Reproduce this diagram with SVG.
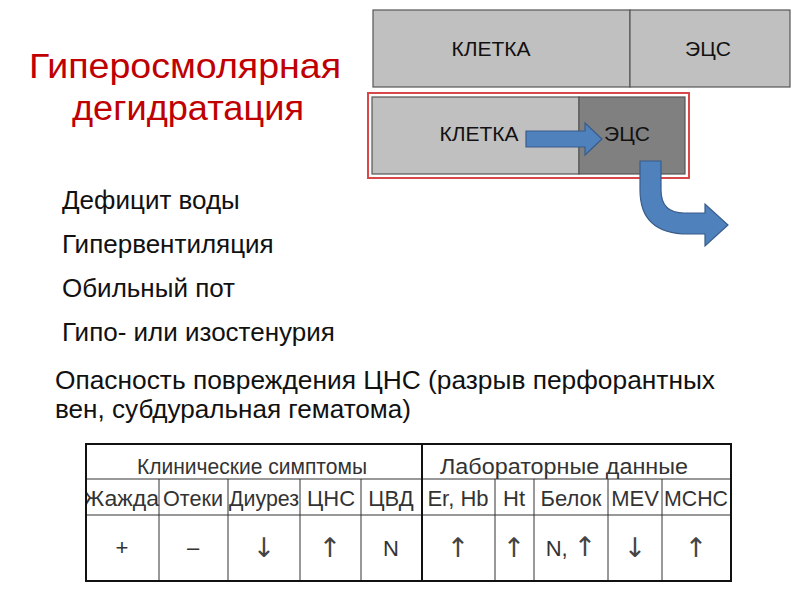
<svg xmlns="http://www.w3.org/2000/svg" width="800" height="600" viewBox="0 0 800 600">
<style>
text{font-family:"Liberation Sans",Arial,sans-serif}
.title{font-size:35px;fill:#c00000;text-anchor:middle}
.body{font-size:26px;fill:#111}
.box{stroke:#555;stroke-width:1.2}
.lbl{font-size:21px;fill:#111;text-anchor:middle}
.arrow{fill:#4f81bd;stroke:#385d8a;stroke-width:1.2}
.th{font-size:22px;fill:#333;text-anchor:middle}
.td{font-size:22px;fill:#333;text-anchor:middle}
.ar{font-family:"DejaVu Sans ExtraLight","DejaVu Sans",sans-serif;font-size:27px;fill:#444}
.inner{stroke:#333;stroke-width:1;fill:none}
.outer{stroke:#111;stroke-width:2;fill:none}
</style>
<rect width="800" height="600" fill="#fff"/>
<g id="title">
<text class="title" x="185" y="78" textLength="312" lengthAdjust="spacingAndGlyphs">Гиперосмолярная</text>
<text class="title" x="188" y="120" textLength="232" lengthAdjust="spacingAndGlyphs">дегидратация</text>
</g>
<g id="top-bar">
<rect class="box" x="373" y="10" width="257" height="77" fill="#c0c0c0"/>
<rect class="box" x="630" y="10" width="160" height="77" fill="#c0c0c0"/>
<text class="lbl" x="491" y="56">КЛЕТКА</text>
<text class="lbl" x="708" y="56">ЭЦС</text>
</g>
<g id="bottom-bar">
<rect x="368" y="93" width="321" height="85" fill="none" stroke="#d94848" stroke-width="2"/>
<rect class="box" x="372" y="97" width="207" height="77" fill="#c0c0c0"/>
<rect class="box" x="579" y="97" width="106" height="77" fill="#808080"/>
<text class="lbl" x="479" y="141">КЛЕТКА</text>
<text class="lbl" x="627" y="141">ЭЦС</text>
</g>
<g id="connectors">
<path class="arrow" d="M526,131 H585 V123 L602,139 L585,155 V147 H526 Z"/>
<path class="arrow" d="M640,161 H661 V190 Q661,213 684,213 H705 V204 L728,225 L705,246 V234 H688 Q640,234 640,190 Z"/>
</g>
<g id="list">
<text class="body" x="62" y="209">Дефицит воды</text>
<text class="body" x="62" y="253">Гипервентиляция</text>
<text class="body" x="62" y="297">Обильный пот</text>
<text class="body" x="62" y="341">Гипо- или изостенурия</text>
<text class="body" x="55" y="389" font-size="27" textLength="660" lengthAdjust="spacingAndGlyphs">Опасность повреждения ЦНС (разрыв перфорантных</text>
<text class="body" x="55" y="418" font-size="27" textLength="356" lengthAdjust="spacingAndGlyphs">вен, субдуральная гематома)</text>
</g>
<g id="table">
<line class="inner" x1="86" y1="479" x2="731" y2="479"/>
<line class="inner" x1="86" y1="515" x2="731" y2="515"/>
<line class="inner" x1="159" y1="479" x2="159" y2="581"/>
<line class="inner" x1="228" y1="479" x2="228" y2="581"/>
<line class="inner" x1="300" y1="479" x2="300" y2="581"/>
<line class="inner" x1="361" y1="479" x2="361" y2="581"/>
<line class="inner" x1="495" y1="479" x2="495" y2="581"/>
<line class="inner" x1="534" y1="479" x2="534" y2="581"/>
<line class="inner" x1="608" y1="479" x2="608" y2="581"/>
<line class="inner" x1="662" y1="479" x2="662" y2="581"/>
<text class="th" x="252" y="474" textLength="230" lengthAdjust="spacingAndGlyphs">Клинические симптомы</text>
<text class="th" x="564" y="474" textLength="248" lengthAdjust="spacingAndGlyphs">Лабораторные данные</text>
<text class="th" x="121" y="506" textLength="76" lengthAdjust="spacingAndGlyphs">Жажда</text>
<text class="th" x="193" y="506" textLength="60" lengthAdjust="spacingAndGlyphs">Отеки</text>
<text class="th" x="264" y="506" textLength="70" lengthAdjust="spacingAndGlyphs">Диурез</text>
<text class="th" x="331" y="506">ЦНС</text>
<text class="th" x="391" y="506">ЦВД</text>
<text class="th" x="458" y="506">Er, Hb</text>
<text class="th" x="514" y="506">Ht</text>
<text class="th" x="571" y="506">Белок</text>
<text class="th" x="635" y="506">MEV</text>
<text class="th" x="696" y="506" textLength="64" lengthAdjust="spacingAndGlyphs">MCHC</text>
<text class="td" x="122" y="555">+</text>
<text class="td" x="193" y="555">–</text>
<text class="td ar" x="264" y="557">↓</text>
<text class="td ar" x="330" y="557">↑</text>
<text class="td" x="391" y="556">N</text>
<text class="td ar" x="458" y="557">↑</text>
<text class="td ar" x="514" y="557">↑</text>
<text class="td" x="571" y="556">N, <tspan class="ar">↑</tspan></text>
<text class="td ar" x="635" y="557">↓</text>
<text class="td ar" x="696" y="557">↑</text>
<rect x="70" y="444" width="16" height="140" fill="#fff"/>
<line class="outer" x1="422" y1="444" x2="422" y2="581"/>
<rect class="outer" x="86" y="444" width="645" height="137"/>
</g>
</svg>
